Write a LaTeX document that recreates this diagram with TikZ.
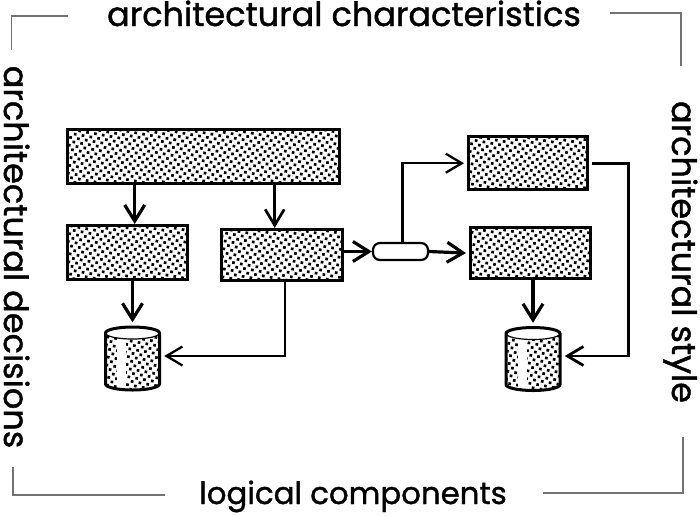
\documentclass[tikz,border=0pt]{standalone}
\usepackage{fontspec}
\setmainfont{Poppins}[FakeBold=1.2]
\usetikzlibrary{arrows.meta, shapes.geometric, patterns.meta}

\begin{document}
\begin{tikzpicture}[
    x=1pt, y=-1pt,
    dots/.style={pattern={Dots[distance=5.6pt, angle=35, radius=1.9pt]}},
    dotted box/.style={rectangle, draw, line width=3.4pt, inner sep=0pt, anchor=north west, dots},
    drum outline/.style={insert path={
        ([shift={(1.5pt,-7.5pt)}]dr) arc[start angle=180, end angle=0, x radius=27pt, y radius=6pt]
        -- ++(0pt,-51pt) arc[start angle=0, end angle=-180, x radius=27pt, y radius=6pt] -- cycle}},
    drum/.style={rectangle, inner sep=0pt, minimum width=57pt, minimum height=66pt,
        path picture={
            \coordinate (dr) at (path picture bounding box.north west);
            \path[dots, drum outline];
            \fill[white] ([shift={(13pt,-12pt)}]dr) rectangle ++(9pt,-50pt);
            \draw[fill=white, line width=1.2pt] ([shift={(28.5pt,-7.5pt)}]dr) ellipse (27pt and 6pt);
            \draw[line width=3pt, drum outline];
        }},
    pill/.style={rectangle, rounded corners=7pt, draw, line width=2.2pt, fill=white, inner sep=0pt,
        minimum width=55pt, minimum height=17pt},
    arrow/.style={-{Straight Barb[length=16pt, width=20pt]}, line width=3.2pt},
    thin arrow/.style={-{Straight Barb[length=16pt, width=19pt]}, line width=2.3pt},
    frame/.style={draw=black!55, line width=1.7pt},
    caption/.style={inner sep=0pt, anchor=base, font=\fontsize{33.5}{34}\selectfont}
]
    \useasboundingbox (0,0) rectangle (700,515);

    % corner brackets
    \draw[frame] (68,16) -- (11.5,16) -- (11.5,50);
    \draw[frame] (610,13) -- (681,13) -- (681,66);
    \draw[frame] (13,467) -- (13,495) -- (165,495);
    \draw[frame] (543,493) -- (683,493) -- (683,437);

    \node[caption] (top) at (344,26) {architectural characteristics};
    \node[caption, font=\fontsize{30.8}{31}\selectfont] (bottom) at (353,504) {logical components};
    \node[caption, rotate=-90] (left) at (4,257) {architectural decisions};
    \node[caption, rotate=-90] (right) at (672,252) {architectural style};

    % left group
    \node[dotted box, minimum width=272pt, minimum height=54pt] (main) at (66,128) {};
    \node[dotted box, minimum width=120pt, minimum height=54pt] (svcA) at (66,224) {};
    \node[dotted box, minimum width=121pt, minimum height=51pt] (svcB) at (220,228) {};
    \node[drum] (dbA) at (132.5,358.5) {};

    % right group
    \node[pill] (broker) at (400.5,251.5) {};
    \node[dotted box, minimum width=119pt, minimum height=53pt] (svcC) at (467,135) {};
    \node[dotted box, minimum width=120pt, minimum height=51pt] (svcD) at (469,226) {};
    \node[drum] (dbB) at (533,359) {};

    \draw[arrow] ([xshift=7pt]svcA.north |- main.south) -- ([xshift=7pt]svcA.north);
    \draw[thin arrow, line width=2.7pt] ([xshift=-7.5pt]svcB.north |- main.south) -- ([xshift=-7.5pt]svcB.north);
    \draw[arrow, shorten >=3pt] (dbA.north |- svcA.south) -- (dbA.north);
    \draw[thin arrow, shorten >=3pt] ([xshift=3pt]svcB.south) |- ([yshift=2.5pt]dbA.east);
    \draw[arrow] (svcB.east |- broker.west) -- (broker.west);
    \draw[arrow, shorten >=3pt] (broker.east) -- (svcD.west);
    \draw[thin arrow, shorten >=3pt] ([xshift=2pt]broker.north) |- (svcC.west);
    \draw[arrow, shorten >=3pt] (dbB.north |- svcD.south) -- (dbB.north);
    \draw[thin arrow, line width=2.8pt, shorten <=3pt, shorten >=3pt] (svcC.east) -- ([xshift=39pt]svcC.east) |- ([yshift=3pt]dbB.east);
\end{tikzpicture}
\end{document}
